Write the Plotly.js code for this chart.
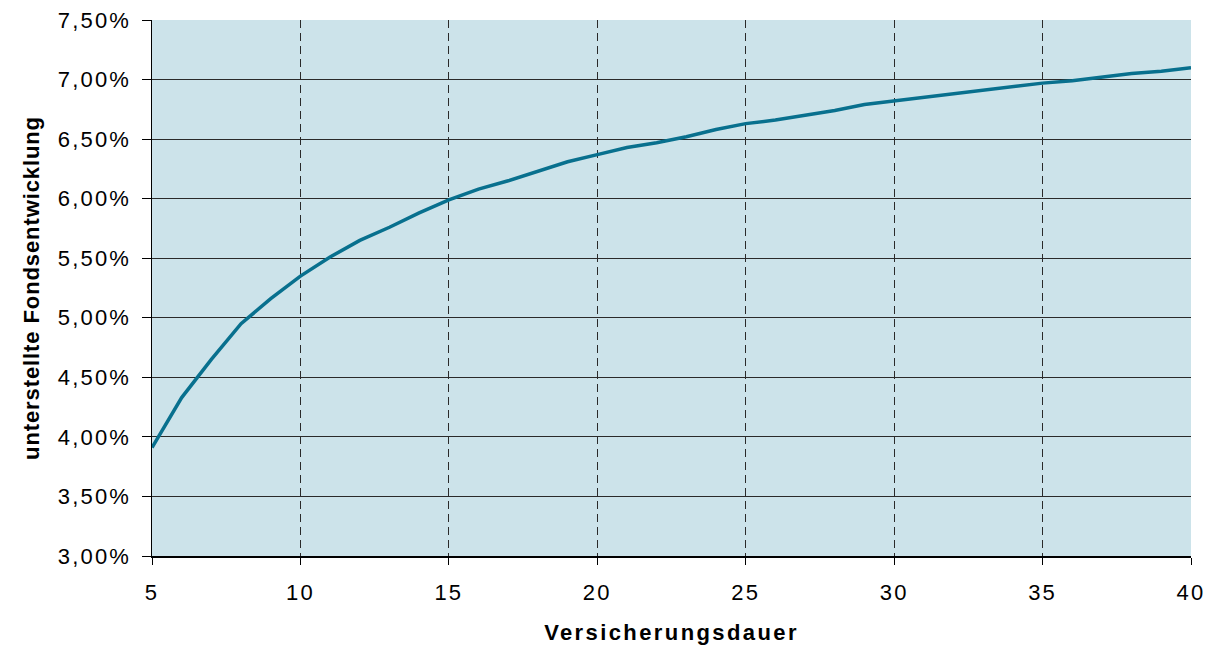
<!DOCTYPE html>
<html>
<head>
<meta charset="utf-8">
<script src="https://cdn.plot.ly/plotly-3.0.1.min.js"></script>
<style>
html, body { margin: 0; padding: 0; background: #ffffff; }
#chart { width: 1206px; height: 649px; }
.xtitle { letter-spacing: 2.4px; }
.ytitle { letter-spacing: 0.9px; }
.xtick text, .ytick text { letter-spacing: 2.2px; }
</style>
</head>
<body>
<div id="chart"></div>
<script>
// Versicherungsdauer (years)
const years = [5, 6, 7, 8, 9, 10, 11, 12, 13, 14, 15, 16, 17, 18, 19, 20, 21, 22,
  23, 24, 25, 26, 27, 28, 29, 30, 31, 32, 33, 34, 35, 36, 37, 38, 39, 40];
// unterstellte Fondsentwicklung (percent)
const rates = [3.91, 4.33, 4.65, 4.95, 5.16, 5.35, 5.51, 5.65, 5.76, 5.88, 5.99,
  6.08, 6.15, 6.23, 6.31, 6.37, 6.43, 6.47, 6.52, 6.58, 6.63, 6.66, 6.70, 6.74,
  6.79, 6.82, 6.85, 6.88, 6.91, 6.94, 6.97, 6.99, 7.02, 7.05, 7.07, 7.10];
// y tick labels
const yTickVals = [3.0, 3.5, 4.0, 4.5, 5.0, 5.5, 6.0, 6.5, 7.0, 7.5];
const yTickText = ["3,00%", "3,50%", "4,00%", "4,50%", "5,00%", "5,50%", "6,00%", "6,50%", "7,00%", "7,50%"];
const xTickVals = [5, 10, 15, 20, 25, 30, 35, 40];

const trace = {
  x: years,
  y: rates,
  type: 'scatter',
  mode: 'lines',
  line: { color: '#08708e', width: 3.5 },
  hoverinfo: 'skip'
};

const font = { family: '"Liberation Sans", Arial, sans-serif', color: '#000000' };

const layout = {
  width: 1206,
  height: 649,
  margin: { l: 152, r: 15, t: 20, b: 93 },
  paper_bgcolor: '#ffffff',
  plot_bgcolor: '#cce3ea',
  showlegend: false,
  font: Object.assign({ size: 22 }, font),
  xaxis: {
    range: [5, 40],
    tickmode: 'array',
    tickvals: xTickVals,
    ticktext: xTickVals.map(String),
    ticks: 'outside',
    ticklen: 7,
    tickwidth: 1,
    tickcolor: '#000000',
    ticklabelstandoff: 9,
    showline: true,
    linecolor: '#000000',
    linewidth: 1.5,
    showgrid: true,
    gridcolor: '#2a2a2a',
    gridwidth: 1,
    griddash: '8px,5px',
    zeroline: false,
    tickfont: Object.assign({ size: 22 }, font),
    title: {
      text: 'Versicherungsdauer',
      font: Object.assign({ size: 22, weight: 'bold' }, font),
      standoff: 20
    },
    fixedrange: true
  },
  yaxis: {
    range: [3.0, 7.5],
    tickmode: 'array',
    tickvals: yTickVals,
    ticktext: yTickText,
    ticks: 'outside',
    ticklen: 9,
    tickwidth: 1,
    tickcolor: '#000000',
    ticklabelstandoff: 6,
    showline: true,
    linecolor: '#000000',
    linewidth: 1.5,
    showgrid: true,
    gridcolor: '#2a2a2a',
    gridwidth: 1,
    zeroline: false,
    tickfont: Object.assign({ size: 22 }, font),
    title: {
      text: 'unterstellte Fondsentwicklung',
      font: Object.assign({ size: 22, weight: 'bold' }, font),
      standoff: 12
    },
    fixedrange: true
  }
};

Plotly.newPlot('chart', [trace], layout, { displayModeBar: false, staticPlot: true });
</script>
</body>
</html>
